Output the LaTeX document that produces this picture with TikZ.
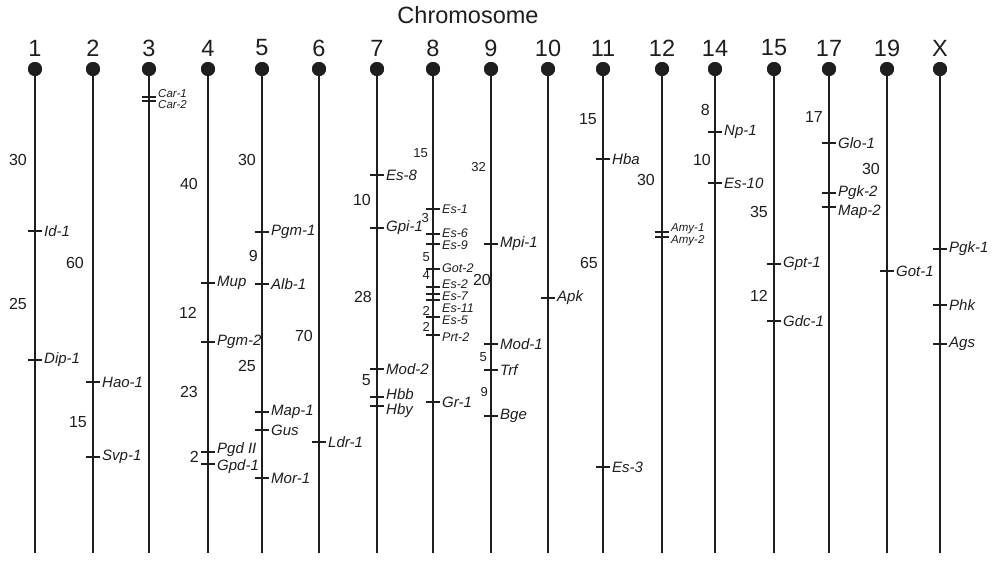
\documentclass[tikz,border=0pt]{standalone}
\usepackage{fontspec}
\setmainfont{Liberation Sans}
\definecolor{ink}{HTML}{1E1E1E}
\newcommand\gn[6][gl]{%
  \coordinate (t#5) at (#2,#3);
  \draw[tk] ([xshift=-7pt]t#5) -- ([xshift=7pt]t#5);
  \node[#1] (l#5) at (#2+9,#4) {#6};}
\newcommand\dn[5][dist]{\node[#1] (#4) at (#2,#3) {#5};}
\newcommand\chrom[3]{%
  \coordinate (b#1) at (#2,553);
  \node[cen] (c#1) at (#2,69) {};
  \draw[chr] (c#1.center) -- (b#1);
  \node[cen] at (c#1) {};
  \node[cnum] (n#1) at (#2,48) {#3};}
\begin{document}
\begin{tikzpicture}[x=1pt,y=-1pt,
  chr/.style={line width=2.3pt, draw=ink},
  tk/.style={line width=1.4pt, draw=ink},
  cen/.style={circle, fill=ink, minimum size=14pt, inner sep=0pt},
  cnum/.style={font=\fontsize{23.5}{23.5}\selectfont, text=ink},
  gl/.style={anchor=west, inner sep=0pt, text=ink, font=\itshape\fontsize{15}{15}\selectfont},
  glm/.style={gl, font=\itshape\fontsize{12.5}{12.5}\selectfont},
  gls/.style={gl, font=\itshape\fontsize{11.5}{11.5}\selectfont},
  dist/.style={anchor=east, inner sep=0pt, text=ink, font=\fontsize{16}{16}\selectfont},
  dsm/.style={dist, font=\fontsize{13}{13}\selectfont}]
\useasboundingbox[fill=white] (0,0) rectangle (1000,562);
\node[font=\fontsize{23.5}{23.5}\selectfont, text=ink] (title) at (468,15) {Chromosome};
\chrom{1}{35}{1}
\chrom{2}{93}{2}
\chrom{3}{149}{3}
\chrom{4}{208}{4}
\chrom{5}{262}{5}
\chrom{6}{319}{6}
\chrom{7}{377}{7}
\chrom{8}{433}{8}
\chrom{9}{491}{9}
\chrom{10}{548}{10}
\chrom{11}{603}{11}
\chrom{12}{662}{12}
\chrom{14}{715}{14}
\chrom{15}{774}{15}
\chrom{17}{829}{17}
\chrom{19}{887}{19}
\chrom{X}{940}{X}
% chr 1
\gn{35}{231}{231}{Id1}{Id-1}
\gn{35}{360}{360}{Dip1}{Dip-1}
\dn{27}{160}{d1a}{30}
\dn{27}{304}{d1b}{25}
% chr 2
\gn{93}{382}{382}{Hao1}{Hao-1}
\gn{93}{457}{457}{Svp1}{Svp-1}
\dn{84}{263}{d2a}{60}
\dn{87}{422}{d2b}{15}
% chr 3
\gn[gls]{149}{97}{94}{Car1}{Car-1}
\gn[gls]{149}{101}{105}{Car2}{Car-2}
% chr 4
\gn{208}{283}{283}{Mup}{Mup}
\gn{208}{342}{342}{Pgm2}{Pgm-2}
\gn{208}{452}{450}{PgdII}{Pgd II}
\gn{208}{464}{467}{Gpd1}{Gpd-1}
\dn{198}{184}{d4a}{40}
\dn{197}{313}{d4b}{12}
\dn{198}{392}{d4c}{23}
\dn{199}{457}{d4d}{2}
% chr 5
\gn{262}{232}{232}{Pgm1}{Pgm-1}
\gn{262}{284}{284}{Alb1}{Alb-1}
\gn{262}{412}{412}{Map1}{Map-1}
\gn{262}{430}{430}{Gus}{Gus}
\gn{262}{478}{478}{Mor1}{Mor-1}
\dn{256}{160}{d5a}{30}
\dn{258}{256}{d5b}{9}
\dn{256}{366}{d5c}{25}
% chr 6
\gn{319}{442}{442}{Ldr1}{Ldr-1}
\dn{313}{336}{d6a}{70}
% chr 7
\gn{377}{175}{175}{Es8}{Es-8}
\gn{377}{228}{228}{Gpi1}{Gpi-1}
\gn{377}{369}{369}{Mod2}{Mod-2}
\gn{377}{397}{394}{Hbb}{Hbb}
\gn{377}{406}{411}{Hby}{Hby}
\dn{371}{200}{d7a}{10}
\dn{372}{297}{d7b}{28}
\dn{371}{380}{d7c}{5}
% chr 8
\gn[glm]{433}{209}{209}{Es1}{Es-1}
\gn[glm]{433}{234}{233}{Es6}{Es-6}
\gn[glm]{433}{244}{245}{Es9}{Es-9}
\gn[glm]{433}{269}{268}{Got2}{Got-2}
\gn[glm]{433}{287}{284}{Es2}{Es-2}
\gn[glm]{433}{294}{296}{Es7}{Es-7}
\gn[glm]{433}{300}{308}{Es11}{Es-11}
\gn[glm]{433}{317}{320}{Es5}{Es-5}
\gn[glm]{433}{335}{337}{Prt2}{Prt-2}
\gn{433}{402}{402}{Gr1}{Gr-1}
\dn[dsm]{428}{153}{d8a}{15}
\dn[dsm]{429}{218}{d8b}{3}
\dn[dsm]{430}{257}{d8c}{5}
\dn[dsm]{430}{275}{d8d}{4}
\dn[dsm]{430}{311}{d8e}{2}
\dn[dsm]{430}{327}{d8f}{2}
% chr 9
\gn{491}{244}{244}{Mpi1}{Mpi-1}
\gn{491}{344}{344}{Mod1}{Mod-1}
\gn{491}{370}{370}{Trf}{Trf}
\gn{491}{416}{416}{Bge}{Bge}
\dn[dsm]{486}{167}{d9a}{32}
\dn{491}{280}{d9b}{20}
\dn[dsm]{487}{357}{d9c}{5}
\dn[dsm]{488}{392}{d9d}{9}
% chr 10
\gn{548}{298}{298}{Apk}{Apk}
% chr 11
\gn{603}{159}{159}{Hba}{Hba}
\gn{603}{467}{467}{Es3}{Es-3}
\dn{597}{119}{d11a}{15}
\dn{598}{263}{d11b}{65}
% chr 12
\gn[gls]{662}{232}{229}{Amy1}{Amy-1}
\gn[gls]{662}{237}{241}{Amy2}{Amy-2}
\dn{655}{180}{d12a}{30}
% chr 14
\gn{715}{132}{132}{Np1}{Np-1}
\gn{715}{183}{183}{Es10}{Es-10}
\dn{710}{110}{d14a}{8}
\dn{711}{160}{d14b}{10}
% chr 15
\gn{774}{264}{264}{Gpt1}{Gpt-1}
\gn{774}{321}{321}{Gdc1}{Gdc-1}
\dn{768}{212}{d15a}{35}
\dn{768}{296}{d15b}{12}
% chr 17
\gn{829}{143}{143}{Glo1}{Glo-1}
\gn{829}{193}{193}{Pgk2}{Pgk-2}
\gn{829}{207}{212}{Map2}{Map-2}
\dn{823}{117}{d17a}{17}
% chr 19
\gn{887}{271}{271}{Got1}{Got-1}
\dn{880}{169}{d19a}{30}
% chr X
\gn{940}{249}{249}{Pgk1}{Pgk-1}
\gn{940}{305}{305}{Phk}{Phk}
\gn{940}{344}{344}{Ags}{Ags}
\end{tikzpicture}
\end{document}
